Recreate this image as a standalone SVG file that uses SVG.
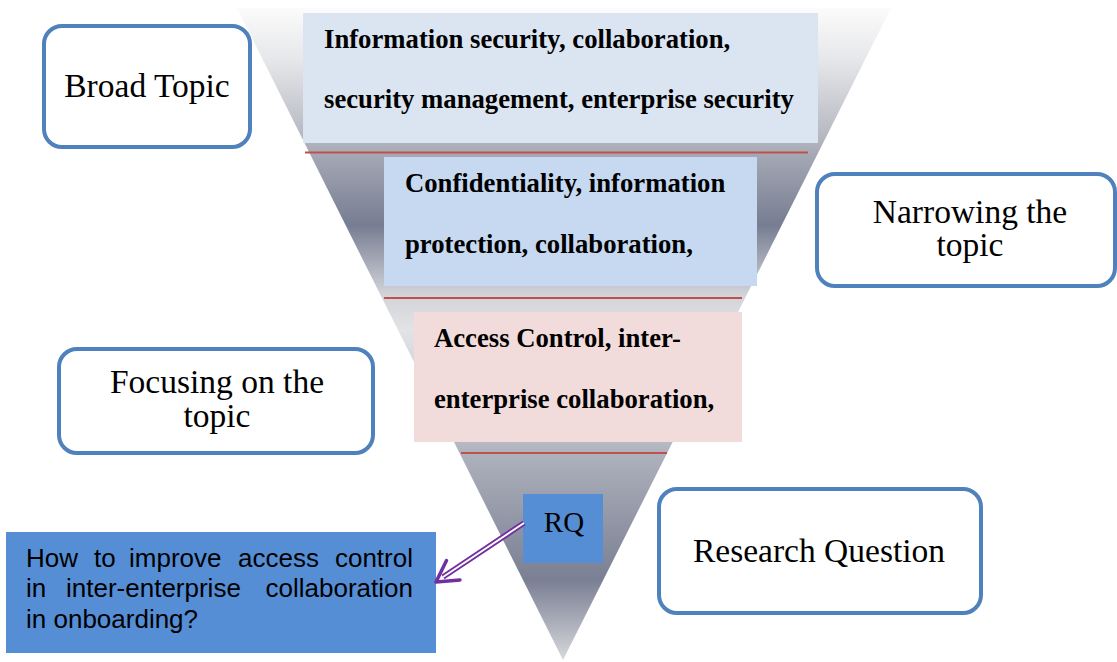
<svg xmlns="http://www.w3.org/2000/svg" width="1117" height="662" viewBox="0 0 1117 662">
<style>
.lbl{font-family:"Liberation Serif","Times New Roman",serif;font-size:33.5px;fill:#000;text-anchor:middle}
.bold{font-family:"Liberation Serif","Times New Roman",serif;font-size:26.7px;font-weight:bold;fill:#000}
.q{font-family:"Liberation Sans",Arial,sans-serif;font-size:26px;fill:#000}
.rbox{fill:#fff;stroke:#4f81bd;stroke-width:4}
.red{stroke:#c0504d;stroke-width:2}
</style>
<defs>
<linearGradient id="funnel" gradientUnits="userSpaceOnUse" x1="0" y1="8" x2="0" y2="660">
<stop offset="0" stop-color="#fbfbfb"/>
<stop offset="0.08" stop-color="#e6e7ea"/>
<stop offset="0.2" stop-color="#b4b7c0"/>
<stop offset="0.226" stop-color="#a4a8b4"/>
<stop offset="0.333" stop-color="#777d92"/>
<stop offset="0.44" stop-color="#d2d4d9"/>
<stop offset="0.494" stop-color="#e2e3e6"/>
<stop offset="0.663" stop-color="#b8bbc4"/>
<stop offset="0.685" stop-color="#adb1bc"/>
<stop offset="0.877" stop-color="#7a7f93"/>
<stop offset="1" stop-color="#d6d8dc"/>
</linearGradient>
</defs>
<g id="funnel-shape">
<polygon points="237,8 891,8 563,660" fill="url(#funnel)"/>
</g>
<g id="level1">
<rect x="303" y="13" width="515" height="130" fill="#dbe5f1"/>
<text class="bold" x="324" y="48">Information security, collaboration,</text>
<text class="bold" x="324" y="108">security management, enterprise security</text>
</g>
<g id="level2">
<rect x="384" y="157" width="373" height="129" fill="#c6d9f0"/>
<text class="bold" x="405" y="192">Confidentiality, information</text>
<text class="bold" x="405" y="253">protection, collaboration,</text>
</g>
<g id="level3">
<rect x="414" y="312" width="328" height="130" fill="#f2dcdb"/>
<text class="bold" x="434" y="347">Access Control, inter-</text>
<text class="bold" x="434" y="408">enterprise collaboration,</text>
</g>
<g id="separators">
<line class="red" x1="305" y1="152.5" x2="808" y2="152.5"/>
<line class="red" x1="384" y1="298" x2="742" y2="298"/>
<line class="red" x1="461" y1="453" x2="667" y2="453"/>
</g>
<g id="rq">
<rect x="523" y="494" width="80" height="69" fill="#558ed5"/>
<text x="564" y="532" style="font-family:'Liberation Serif','Times New Roman',serif;font-size:29px;text-anchor:middle">RQ</text>
</g>
<g id="question">
<rect x="6" y="532" width="430" height="121" fill="#558ed5"/>
<text class="q" x="26" y="567">How</text>
<text class="q" x="94" y="567">to</text>
<text class="q" x="129" y="567">improve</text>
<text class="q" x="238" y="567">access</text>
<text class="q" x="413" y="567" text-anchor="end">control</text>
<text class="q" x="26" y="597">in</text>
<text class="q" x="66" y="597">inter-enterprise</text>
<text class="q" x="413" y="597" text-anchor="end">collaboration</text>
<text class="q" x="26" y="628">in onboarding?</text>
</g>
<g id="broad-topic">
<rect class="rbox" x="44" y="26" width="206" height="121" rx="18"/>
<text class="lbl" x="147" y="97">Broad Topic</text>
</g>
<g id="narrowing">
<rect class="rbox" x="817" y="174" width="298" height="112" rx="18"/>
<text class="lbl" x="970" y="223">Narrowing the<tspan x="970" dy="33">topic</tspan></text>
</g>
<g id="focusing">
<rect class="rbox" x="59" y="349" width="314" height="104" rx="18"/>
<text class="lbl" x="217" y="393">Focusing on the<tspan x="217" dy="34">topic</tspan></text>
</g>
<g id="research-question">
<rect class="rbox" x="659" y="489" width="322" height="124" rx="18"/>
<text class="lbl" x="819" y="562">Research Question</text>
</g>
<g id="connectors">
<line x1="524" y1="523" x2="443" y2="577" stroke="#7030a0" stroke-width="5.5"/>
<line x1="524" y1="523" x2="443" y2="577" stroke="#fff" stroke-width="1.8"/>
<polyline points="446.5,560.5 436,582 460,580" fill="none" stroke="#7030a0" stroke-width="3.5" stroke-linecap="round" stroke-linejoin="round"/>
</g>
</svg>
